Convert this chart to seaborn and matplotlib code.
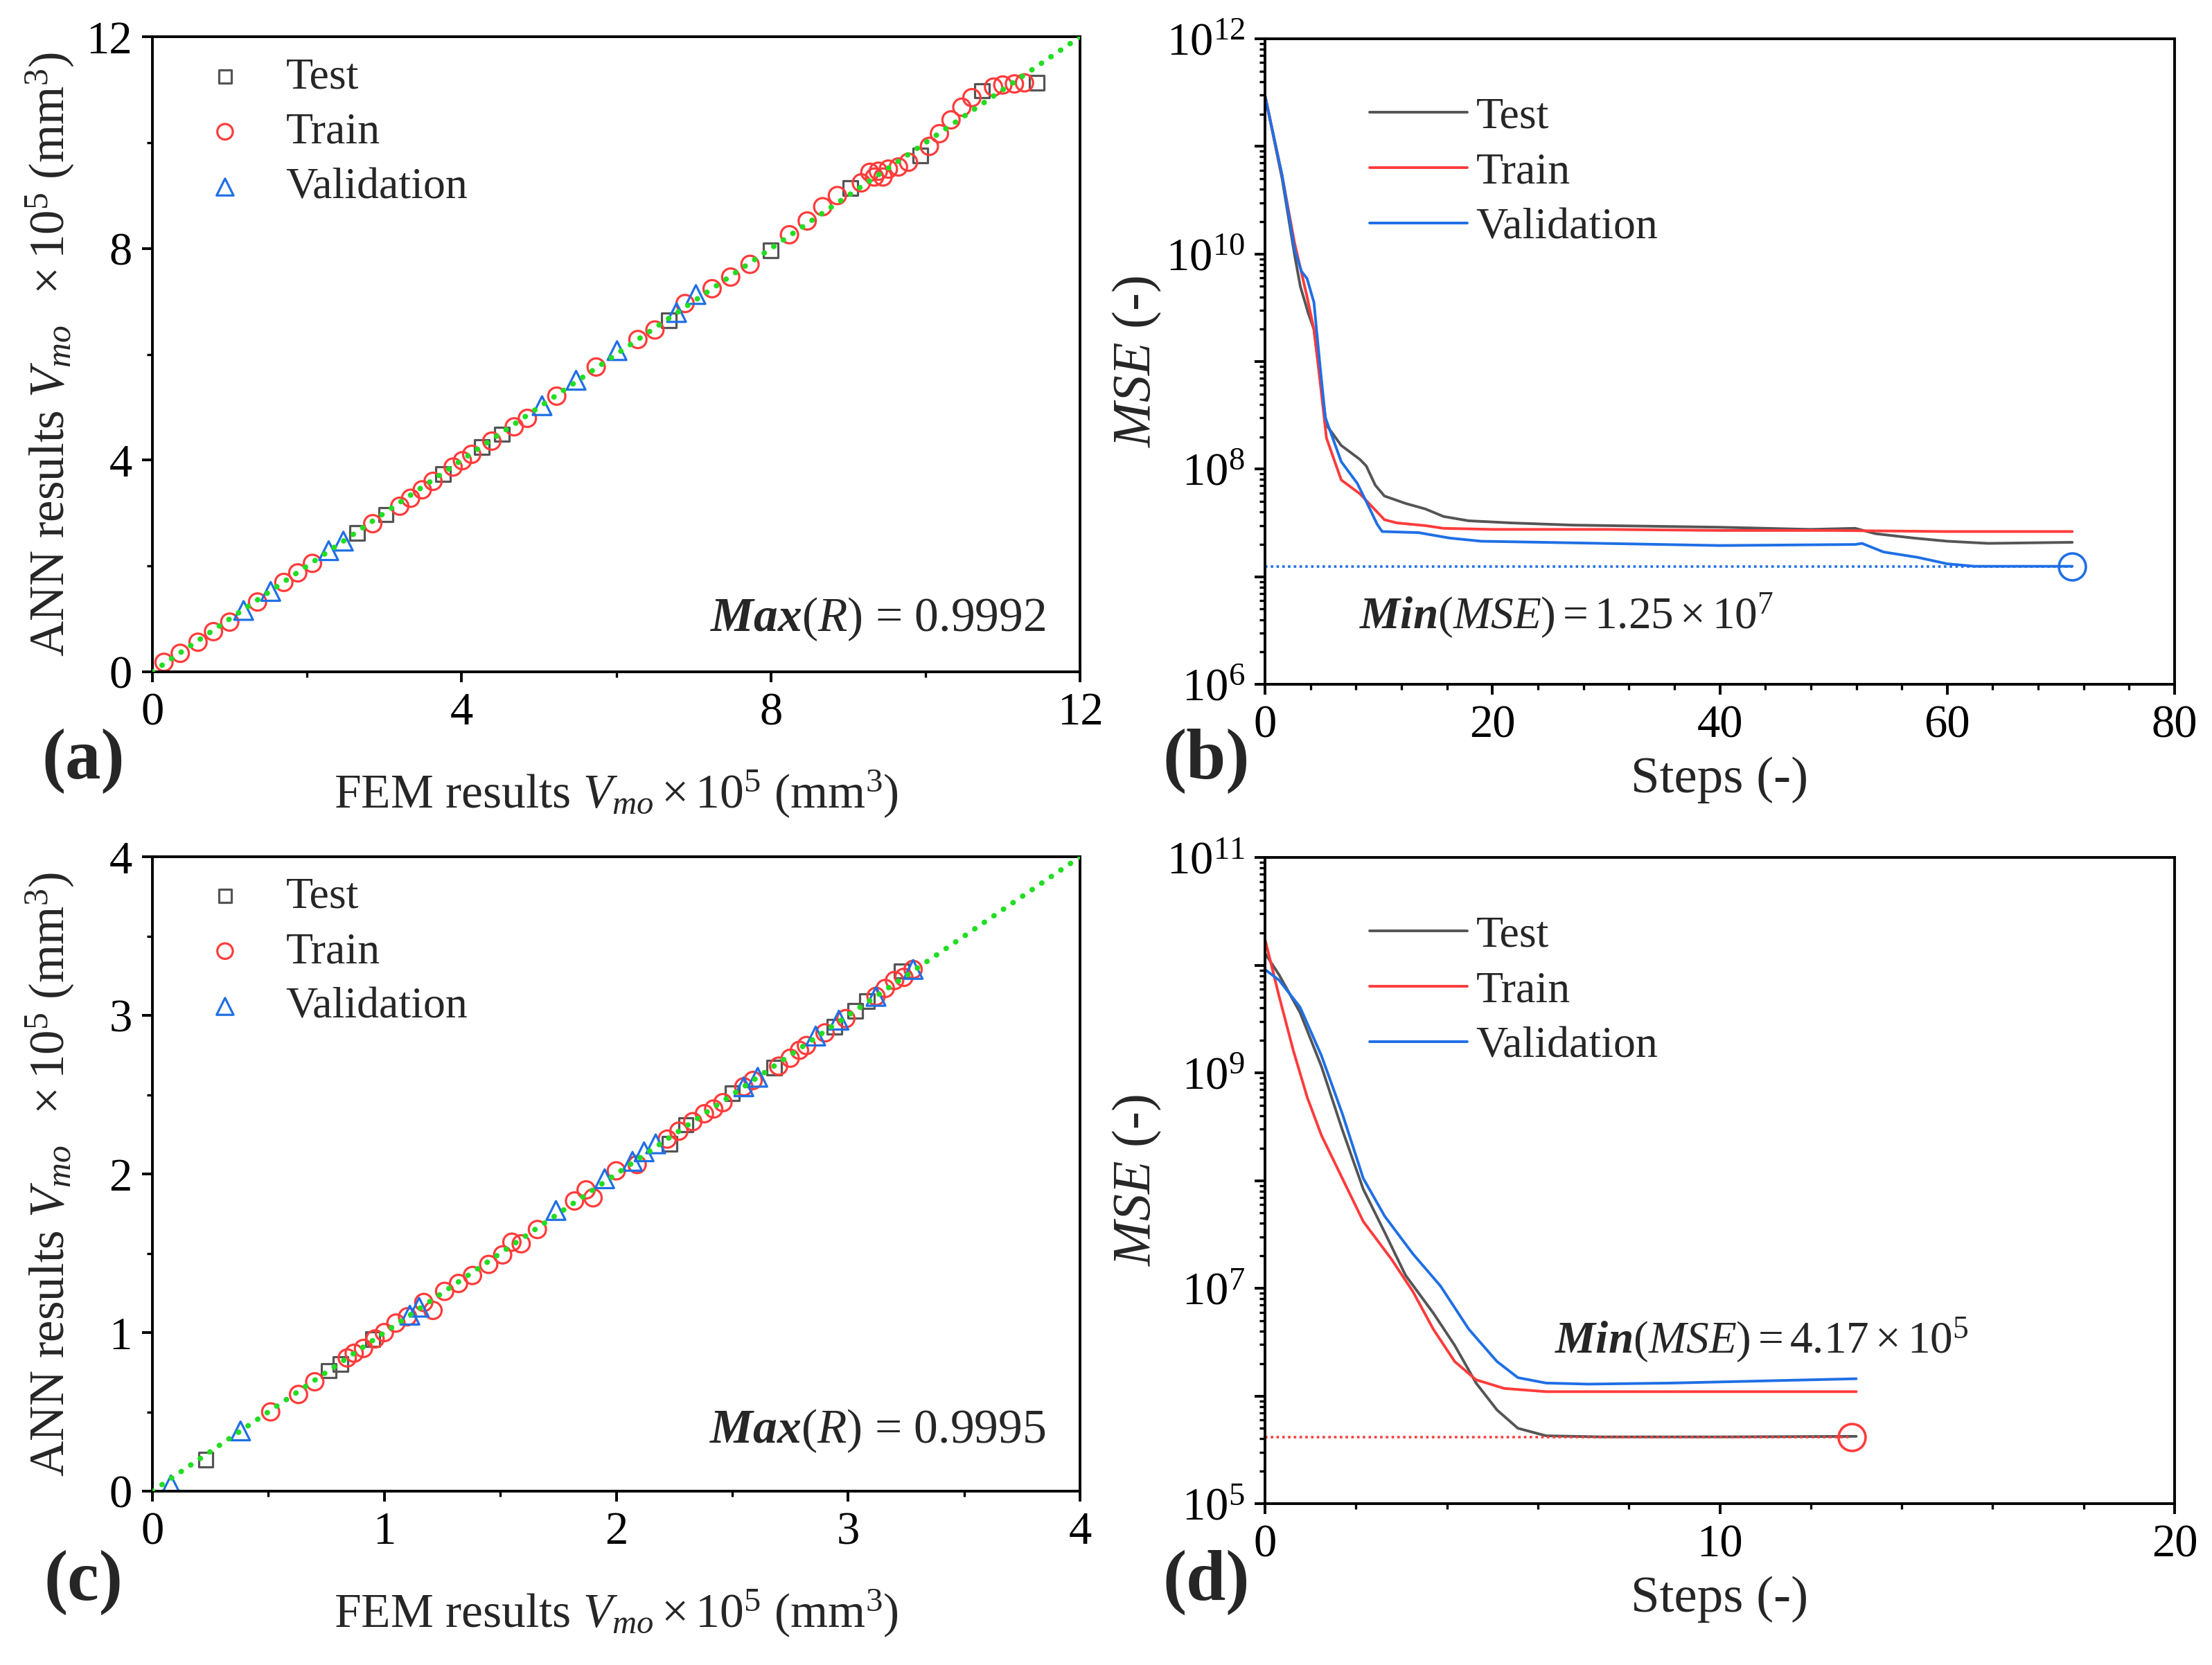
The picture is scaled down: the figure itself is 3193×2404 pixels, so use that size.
import numpy as np
import matplotlib
matplotlib.use('Agg')
import matplotlib.pyplot as plt
import matplotlib.ticker as mticker
import seaborn as sns

# ---------------- data ----------------
# (a) FEM vs ANN, V_mo x 10^5 mm^3
a_test_fem = [2.65, 3.02, 3.76, 4.26, 4.52, 6.68, 8.00, 9.03, 9.93, 10.73, 11.44]
a_test_ann = [2.62, 2.97, 3.74, 4.25, 4.49, 6.64, 7.96, 9.14, 9.76, 10.98, 11.13]
a_train_fem = [0.15, 0.36, 0.59, 0.79, 1.00, 1.36, 1.70, 1.88, 2.07, 2.85, 3.20, 3.34,
               3.49, 3.63, 3.89, 4.01, 4.13, 4.39, 4.68, 4.85, 5.23, 5.74, 6.28, 6.50,
               6.89, 7.24, 7.48, 7.73, 8.24, 8.47, 8.67, 8.86, 9.17, 9.28, 9.34, 9.39,
               9.45, 9.52, 9.65, 9.78, 10.05, 10.18, 10.33, 10.47, 10.60, 10.88, 11.00,
               11.15, 11.28]
a_train_ann = [0.18, 0.35, 0.56, 0.76, 0.94, 1.32, 1.69, 1.87, 2.05, 2.80, 3.13, 3.28,
               3.44, 3.60, 3.87, 3.99, 4.11, 4.36, 4.63, 4.79, 5.21, 5.76, 6.28, 6.46,
               6.96, 7.24, 7.46, 7.70, 8.26, 8.52, 8.79, 9.00, 9.24, 9.44, 9.35, 9.46,
               9.35, 9.50, 9.54, 9.63, 9.93, 10.17, 10.43, 10.67, 10.85, 11.05, 11.09,
               11.11, 11.13]
a_val_fem = [1.18, 1.53, 2.28, 2.47, 5.04, 5.48, 6.01, 6.78, 7.03]
a_val_ann = [1.16, 1.52, 2.29, 2.47, 5.03, 5.51, 6.07, 6.79, 7.13]

# (c) FEM vs ANN, V_mo x 10^5 mm^3
c_test_fem = [0.23, 0.76, 0.81, 0.95, 2.23, 2.30, 2.50, 2.68, 2.94, 3.03, 3.08, 3.23]
c_test_ann = [0.20, 0.76, 0.80, 0.96, 2.19, 2.31, 2.51, 2.67, 2.93, 3.03, 3.09, 3.28]
c_train_fem = [0.51, 0.63, 0.70, 0.84, 0.87, 0.91, 0.96, 1.00, 1.05, 1.10, 1.17, 1.21,
               1.26, 1.32, 1.38, 1.45, 1.51, 1.55, 1.59, 1.66, 1.82, 1.87, 1.90, 2.00,
               2.09, 2.22, 2.27, 2.33, 2.38, 2.42, 2.46, 2.55, 2.59, 2.70, 2.75, 2.79,
               2.82, 2.90, 2.99, 3.12, 3.16, 3.20, 3.24, 3.28]
c_train_ann = [0.50, 0.61, 0.69, 0.84, 0.87, 0.90, 0.96, 1.00, 1.06, 1.10, 1.19, 1.14,
               1.26, 1.31, 1.36, 1.43, 1.49, 1.57, 1.56, 1.65, 1.83, 1.90, 1.85, 2.02,
               2.06, 2.22, 2.27, 2.33, 2.38, 2.41, 2.45, 2.55, 2.59, 2.68, 2.73, 2.78,
               2.81, 2.89, 2.98, 3.12, 3.17, 3.22, 3.24, 3.29]
c_val_fem = [0.08, 0.38, 1.11, 1.15, 1.74, 1.95, 2.07, 2.12, 2.17, 2.55, 2.61, 2.86,
             2.96, 3.12, 3.28]
c_val_ann = [0.04, 0.38, 1.11, 1.16, 1.77, 1.97, 2.08, 2.14, 2.19, 2.55, 2.61, 2.87,
             2.97, 3.12, 3.29]

# (b) MSE history, log10(MSE)
b_test_step = [0, 1.5, 2.6, 3.1, 3.8, 4.3, 4.9, 5.4, 6.7, 8.35, 8.9, 9.7, 10.5, 12.4,
               14.1, 15.7, 17.9, 21.7, 27, 40, 48, 51.9, 53.7, 57, 60, 63.6, 71]
b_test_log = [11.47, 10.70, 9.99, 9.70, 9.45, 9.30, 8.80, 8.41, 8.22, 8.09, 8.03, 7.85,
              7.75, 7.68, 7.63, 7.56, 7.52, 7.50, 7.48, 7.46, 7.44, 7.45, 7.40, 7.36,
              7.33, 7.31, 7.32]
b_train_step = [0, 1.5, 2.6, 3.7, 4.3, 4.9, 5.4, 6.7, 8.35, 10.5, 11.6, 14.1, 15.7, 20,
                30, 40, 50, 60, 71]
b_train_log = [11.47, 10.73, 10.10, 9.60, 9.30, 8.76, 8.29, 7.90, 7.77, 7.53, 7.50,
               7.475, 7.45, 7.44, 7.44, 7.43, 7.43, 7.42, 7.42]
b_val_step = [0, 1.5, 2.6, 3.2, 3.7, 4.3, 4.8, 5.3, 6.7, 8.1, 8.9, 9.85, 10.3, 13.5,
              16.2, 19, 24.4, 40, 51.9, 52.5, 54.4, 57.4, 60, 62.4, 71]
b_val_log = [11.47, 10.73, 10.04, 9.84, 9.77, 9.55, 9.00, 8.48, 8.07, 7.87, 7.70, 7.49,
             7.42, 7.41, 7.36, 7.33, 7.32, 7.29, 7.30, 7.31, 7.23, 7.18, 7.12, 7.097,
             7.097]
b_min_step, b_min_mse = 71, 1.25e7

# (d) MSE history, log10(MSE)
d_test_step = [0, 0.31, 0.77, 1.24, 1.7, 2.16, 2.63, 3.09, 3.7, 4.17, 4.64, 5.1, 5.56,
               6.18, 7.4, 10, 13]
d_test_log = [10.11, 9.91, 9.56, 9.06, 8.47, 7.92, 7.52, 7.12, 6.77, 6.47, 6.12, 5.87,
              5.70, 5.63, 5.62, 5.62, 5.625]
d_train_step = [0, 0.31, 0.62, 0.93, 1.24, 1.7, 2.16, 2.78, 3.25, 3.7, 4.17, 4.64, 5.26,
                6.18, 9, 13]
d_train_log = [10.24, 9.71, 9.21, 8.77, 8.42, 8.02, 7.62, 7.27, 6.97, 6.62, 6.32, 6.15,
               6.07, 6.04, 6.04, 6.04]
d_val_step = [0, 0.31, 0.77, 1.24, 1.7, 2.16, 2.63, 3.25, 3.86, 4.48, 5.1, 5.56, 6.18,
              7.1, 8.96, 13]
d_val_log = [9.96, 9.86, 9.61, 9.16, 8.62, 8.02, 7.67, 7.32, 7.02, 6.62, 6.32, 6.17,
             6.12, 6.11, 6.12, 6.16]
d_min_step, d_min_mse = 12.9, 4.17e5

# ---------------- style ----------------
sns.set_style('ticks')
plt.rcParams['font.family'] = ['Liberation Serif', 'DejaVu Serif']
plt.rcParams.update({
    'mathtext.fontset': 'custom',
    'mathtext.rm': 'Liberation Serif',
    'mathtext.it': 'Liberation Serif:italic',
    'mathtext.bf': 'Liberation Serif:bold',
    'mathtext.bfit': 'Liberation Serif:italic:bold',
    'axes.linewidth': 1.4,
    'axes.edgecolor': 'black',
    'xtick.direction': 'out', 'ytick.direction': 'out',
    'xtick.major.size': 5.5, 'ytick.major.size': 5.5,
    'xtick.minor.size': 3.0, 'ytick.minor.size': 3.0,
    'xtick.major.width': 1.4, 'ytick.major.width': 1.4,
    'xtick.minor.width': 1.2, 'ytick.minor.width': 1.2,
    'xtick.major.pad': 5, 'ytick.major.pad': 5,
    'xtick.color': 'black', 'ytick.color': 'black',
    'xtick.labelsize': 24, 'ytick.labelsize': 24,
})

col_test = '#555555'
col_train = '#ff3b3b'
col_val = '#1f6fe5'
col_green = '#22dd22'

fig = plt.figure(figsize=(15.965, 12.02), dpi=200)
ax_a = fig.add_axes([0.0689, 0.5965, 0.4194, 0.3814])
ax_b = fig.add_axes([0.5719, 0.5890, 0.4112, 0.3877])
ax_c = fig.add_axes([0.0689, 0.1044, 0.4194, 0.3810])
ax_d = fig.add_axes([0.5719, 0.0969, 0.4112, 0.3881])

fem_label = r'FEM results $V_{mo}\times10^{5}$ (mm$^{3}$)'
ann_label = r'ANN results $V_{mo}\ \ \times10^{5}$ (mm$^{3}$)'


def scatter_panel(ax, test, train, val, lim, major, minor, note, note_xy, leg_top):
    sets = [('Test', test, 's', col_test, 56),
            ('Train', train, 'o', col_train, 80),
            ('Validation', val, '^', col_val, 95)]
    for name, (fx, fy), mk, col, size in sets:
        sns.scatterplot(x=fx, y=fy, ax=ax, marker=mk, s=size, facecolors='none',
                        edgecolor=col, linewidth=1.15, label=name, zorder=2)
    ax.plot([0, lim], [0, lim], color=col_green, lw=2.8, ls=(0, (0.05, 2.1)),
            dash_capstyle='round', zorder=3)
    ax.set_xlim(0, lim)
    ax.set_ylim(0, lim)
    for axis in (ax.xaxis, ax.yaxis):
        axis.set_major_locator(mticker.MultipleLocator(major))
        axis.set_minor_locator(mticker.MultipleLocator(minor))
        axis.set_major_formatter(mticker.FormatStrFormatter('%d'))
    ax.text(note_xy[0], note_xy[1], note, ha='right', va='center', fontsize=25)
    ax.set_xlabel(fem_label, fontsize=25)
    ax.set_ylabel(ann_label, fontsize=25.5)
    ax.xaxis.set_label_coords(0.5, -0.215)
    ax.xaxis.label.set_va('baseline')
    ax.yaxis.set_label_coords(-0.11, 0.5)
    ax.yaxis.label.set_va('center')
    ax.legend(loc='upper left', bbox_to_anchor=(0.033, leg_top), frameon=False,
              fontsize=23, borderpad=0, borderaxespad=0, handlelength=1.9,
              handletextpad=0.42, labelspacing=0.33, markerscale=0.9)


def decade_fmt(parity):
    def f(v, pos):
        e = int(round(np.log10(v)))
        return rf'$\mathregular{{10^{{{e}}}}}$' if e % 2 == parity else ''
    return f


def mse_panel(ax, series, ylo, yhi, parity, xmax, xmajor, xminor,
              min_step, min_mse, min_col, note, note_xy):
    for name, steps, logs, col in series:
        sns.lineplot(x=steps, y=10 ** np.array(logs), ax=ax, color=col, lw=1.4,
                     label=name, sort=False)
    ax.set_yscale('log')
    ax.hlines(min_mse, 0, min_step, colors=min_col, lw=1.3, linestyles=(0, (1, 1.3)))
    ax.plot([min_step], [min_mse], 'o', mfc='none', mec=min_col, ms=14, mew=1.3)
    ax.set_xlim(0, xmax)
    ax.set_ylim(ylo, yhi)
    ax.xaxis.set_major_locator(mticker.MultipleLocator(xmajor))
    ax.xaxis.set_minor_locator(mticker.MultipleLocator(xminor))
    ax.xaxis.set_major_formatter(mticker.FormatStrFormatter('%d'))
    ax.yaxis.set_major_locator(mticker.LogLocator(base=10, numticks=20))
    ax.yaxis.set_minor_locator(mticker.LogLocator(base=10, subs=np.arange(2, 10), numticks=20))
    ax.yaxis.set_major_formatter(mticker.FuncFormatter(decade_fmt(parity)))
    ax.yaxis.set_minor_formatter(mticker.NullFormatter())
    ax.text(note_xy[0], note_xy[1], note, ha='left', va='center', fontsize=23.5)
    ax.set_xlabel('Steps (-)', fontsize=27)
    ax.set_ylabel(r'$MSE$ (-)', fontsize=28)
    ax.xaxis.set_label_coords(0.5, -0.167)
    ax.xaxis.label.set_va('baseline')
    ax.yaxis.set_label_coords(-0.141, 0.5)
    ax.yaxis.label.set_va('center')
    ax.legend(loc='upper left', bbox_to_anchor=(0.115, 0.910), frameon=False,
              fontsize=23, borderpad=0, borderaxespad=0, handlelength=2.2,
              handletextpad=0.2, labelspacing=0.33)


scatter_panel(ax_a, (a_test_fem, a_test_ann), (a_train_fem, a_train_ann),
              (a_val_fem, a_val_ann), 12, 4, 2,
              r'$\mathbfit{Max}(R)$ = 0.9992', (11.55, 1.0), 0.968)
scatter_panel(ax_c, (c_test_fem, c_test_ann), (c_train_fem, c_train_ann),
              (c_val_fem, c_val_ann), 4, 1, 0.5,
              r'$\mathbfit{Max}(R)$ = 0.9995', (3.85, 0.38), 0.969)

mse_panel(ax_b, [('Test', b_test_step, b_test_log, col_test),
                 ('Train', b_train_step, b_train_log, col_train),
                 ('Validation', b_val_step, b_val_log, col_val)],
          1e6, 1e12, 0, 80, 20, 4, b_min_step, b_min_mse, col_val,
          r'$\mathbfit{Min}(MSE) = 1.25\times10^{7}$', (8.3, 10 ** 6.64))
mse_panel(ax_d, [('Test', d_test_step, d_test_log, col_test),
                 ('Train', d_train_step, d_train_log, col_train),
                 ('Validation', d_val_step, d_val_log, col_val)],
          1e5, 1e11, 1, 20, 10, 2, d_min_step, d_min_mse, col_train,
          r'$\mathbfit{Min}(MSE) = 4.17\times10^{5}$', (6.37, 10 ** 6.52))

for lab, x, y in [('(a)', 0.0378, 0.543), ('(b)', 0.5453, 0.543),
                  ('(c)', 0.0378, 0.0495), ('(d)', 0.5453, 0.0495)]:
    fig.text(x, y, lab, ha='center', va='center', fontsize=37, fontweight='bold')

fig.savefig('out.png', dpi=200, facecolor='white')
